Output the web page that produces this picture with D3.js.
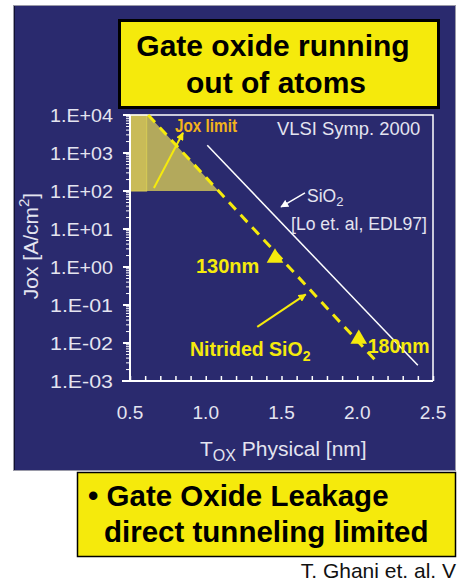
<!DOCTYPE html>
<html>
<head>
<meta charset="utf-8">
<script src="https://cdn.jsdelivr.net/npm/d3@7"></script>
<style>
  html, body { margin: 0; padding: 0; background: #fff; }
  svg { display: block; font-family: "Liberation Sans", Arial, sans-serif; }
</style>
</head>
<body>
<svg id="chart" width="457" height="583"></svg>
<script>
// Axis ranges and ticks
const xDomain = [0.5, 2.5];
const yDomain = [1e-3, 1e4];
const xTickValues = [0.5, 1.0, 1.5, 2.0, 2.5];
const yTickValues = [1e4, 1e3, 1e2, 1e1, 1e0, 1e-1, 1e-2, 1e-3];
const yTickLabels = ["1.E+04", "1.E+03", "1.E+02", "1.E+01", "1.E+00", "1.E-01", "1.E-02", "1.E-03"];

// Leakage trends: [Tox nm, Jox A/cm2]
const sio2Trend = [[1.01, 1.6e3], [2.40, 2.6e-3]];
const nitridedTrend = [[0.62, 1e4], [2.12, 3.5e-3]];

// Technology nodes on the nitrided oxide trend
const nodeNames = ["130nm", "180nm"];
const nodeTox = [1.457, 2.01];
const nodeJox = [1.73, 1.27e-2];

// Jox limit band
const joxLimitLow = 1e2;
const joxLimitHigh = 1e4;
const limitStripTox = 0.61;

const svg = d3.select("#chart");
const navy = "#2a2a6e";
const yellow = "#f5ea0c";
const pale = "#e4e4f0";

// Slide background panel
svg.append("rect").attr("x", 13.5).attr("y", 5.5).attr("width", 442).attr("height", 465)
  .attr("fill", navy).attr("stroke", "#9a9aa8").attr("stroke-width", 1);
svg.append("line").attr("x1", 14.5).attr("x2", 14.5).attr("y1", 6).attr("y2", 470)
  .attr("stroke", "#111133").attr("stroke-width", 1);

const x = d3.scaleLinear().domain(xDomain).range([130, 433]);
const y = d3.scaleLog().domain(yDomain).range([381, 115]);

// Jox limit shading
const slope = (Math.log10(nitridedTrend[1][1]) - Math.log10(nitridedTrend[0][1])) / (nitridedTrend[1][0] - nitridedTrend[0][0]);
const toxAtLow = nitridedTrend[0][0] + (Math.log10(joxLimitLow) - Math.log10(nitridedTrend[0][1])) / slope;
svg.append("path")
  .attr("d", d3.line()([
    [x(xDomain[0]), y(joxLimitHigh)], [x(nitridedTrend[0][0]), y(joxLimitHigh)],
    [x(toxAtLow), y(joxLimitLow)], [x(xDomain[0]), y(joxLimitLow)]
  ]) + "Z")
  .attr("fill", "#b3a95c");
svg.append("rect")
  .attr("x", x(xDomain[0])).attr("y", y(joxLimitHigh))
  .attr("width", x(limitStripTox) - x(xDomain[0])).attr("height", y(joxLimitLow) - y(joxLimitHigh))
  .attr("fill", "#c9bb58").attr("stroke", "#d8cc55").attr("stroke-width", 1);

// Plot frame (top and right sides)
svg.append("path")
  .attr("d", `M${x(xDomain[0])},${y(yDomain[1])}H${x(xDomain[1])}V${y(yDomain[0])}`)
  .attr("fill", "none").attr("stroke", "#ffffff").attr("stroke-width", 1.5);

// X axis
const xAxis = d3.axisBottom(x).tickValues(d3.range(0.5, 2.501, 0.1)).tickSize(-5).tickFormat("");
const gx = svg.append("g").attr("transform", `translate(0,${y(yDomain[0])})`).call(xAxis);
gx.select(".domain").attr("stroke", "#fff").attr("stroke-width", 2).attr("d", `M${x(xDomain[0]) - 8},0H${x(xDomain[1])}`);
gx.selectAll(".tick line").attr("stroke", "#fff").attr("stroke-width", 1.5);
svg.append("g").selectAll("text").data(xTickValues).join("text")
  .attr("x", d => x(d)).attr("y", 419)
  .attr("text-anchor", "middle").attr("fill", pale).attr("font-size", 19)
  .text(d => d.toFixed(1));

// Y axis with log minor ticks
const minor = [];
for (let e = -3; e < 4; e++) for (let m = 2; m <= 9; m++) minor.push(m * Math.pow(10, e));
const gy = svg.append("g").attr("transform", `translate(${x(xDomain[0])},0)`);
gy.append("line").attr("x1", 0).attr("x2", 0).attr("y1", y(yDomain[1])).attr("y2", y(yDomain[0]))
  .attr("stroke", "#fff").attr("stroke-width", 2);
gy.selectAll(".minor").data(minor).join("line").attr("class", "minor")
  .attr("x1", -4).attr("x2", 0).attr("y1", d => y(d)).attr("y2", d => y(d))
  .attr("stroke", "#fff").attr("stroke-width", 1);
gy.selectAll(".major").data(yTickValues).join("line").attr("class", "major")
  .attr("x1", -7).attr("x2", 0).attr("y1", d => y(d)).attr("y2", d => y(d))
  .attr("stroke", "#fff").attr("stroke-width", 2);
svg.append("g").selectAll("text").data(yTickValues).join("text")
  .attr("x", 113).attr("y", d => y(d) + 7)
  .attr("text-anchor", "end").attr("fill", pale).attr("font-size", 19)
  .attr("textLength", 63).attr("lengthAdjust", "spacingAndGlyphs")
  .text((d, i) => yTickLabels[i]);

// Axis titles
const yt = svg.append("text").attr("transform", "translate(38,246) rotate(-90)")
  .attr("text-anchor", "middle").attr("fill", pale).attr("font-size", 21);
yt.append("tspan").text("Jox [A/cm");
yt.append("tspan").attr("dy", -9).attr("font-size", 15).text("2");
yt.append("tspan").attr("dy", 9).text("]");
const xt = svg.append("text").attr("x", 200).attr("y", 456).attr("fill", pale).attr("font-size", 21);
xt.append("tspan").text("T");
xt.append("tspan").attr("dy", 5).attr("font-size", 16).text("OX");
xt.append("tspan").attr("dy", -5).text(" Physical [nm]");

// Trend lines
const line = d3.line().x(d => x(d[0])).y(d => y(d[1]));
svg.append("path").attr("d", line(sio2Trend))
  .attr("fill", "none").attr("stroke", "#ffffff").attr("stroke-width", 1.5);
svg.append("path").attr("d", line(nitridedTrend))
  .attr("fill", "none").attr("stroke", yellow).attr("stroke-width", 3)
  .attr("stroke-dasharray", "10,7");

// Node markers
svg.append("g").selectAll("path").data(nodeTox).join("path")
  .attr("transform", (d, i) => `translate(${x(d)},${y(nodeJox[i])})`)
  .attr("d", d3.symbol(d3.symbolTriangle, 120))
  .attr("fill", yellow);

// Arrow markers
const defs = svg.append("defs");
[["arrW", "#ffffff"], ["arrY", yellow]].forEach(([id, c]) => {
  defs.append("marker").attr("id", id).attr("viewBox", "0 0 10 10")
    .attr("refX", 9).attr("refY", 5).attr("markerWidth", 8).attr("markerHeight", 8)
    .attr("markerUnits", "userSpaceOnUse").attr("orient", "auto")
    .append("path").attr("d", "M0,0L10,5L0,10Z").attr("fill", c);
});
function arrow(p0, p1, id, color, w) {
  svg.append("line").attr("x1", p0[0]).attr("y1", p0[1]).attr("x2", p1[0]).attr("y2", p1[1])
    .attr("stroke", color).attr("stroke-width", w).attr("marker-end", `url(#${id})`);
}

// Annotations
arrow([x(0.658), y(120)], [x(0.85), y(3.4e3)], "arrY", yellow, 2);
svg.append("text").attr("x", 175).attr("y", 132).attr("fill", "#f2b31c")
  .attr("font-size", 18).attr("font-weight", "bold")
  .attr("textLength", 62).attr("lengthAdjust", "spacingAndGlyphs").text("Jox limit");

svg.append("text").attr("x", 277).attr("y", 135).attr("fill", pale)
  .attr("font-size", 18.4).text("VLSI Symp. 2000");

arrow([x(1.655), y(89)], [x(1.497), y(38)], "arrW", "#ffffff", 1.5);
svg.append("text").attr("x", 307).attr("y", 202).attr("fill", pale).attr("font-size", 17.5)
  .call(t => { t.append("tspan").text("SiO"); t.append("tspan").attr("dy", 4).attr("font-size", 13).text("2"); });
svg.append("text").attr("x", 291).attr("y", 230).attr("fill", pale).attr("font-size", 17.6)
  .text("[Lo et. al, EDL97]");

arrow([x(1.34), y(0.0265)], [x(1.66), y(0.19)], "arrY", yellow, 2);
const nt = svg.append("text").attr("x", 190).attr("y", 356).attr("fill", yellow)
  .attr("font-size", 19.5).attr("font-weight", "bold");
nt.append("tspan").text("Nitrided SiO");
nt.append("tspan").attr("dy", 5).attr("font-size", 14).text("2");

svg.append("text").attr("x", x(nodeTox[0]) - 79).attr("y", y(nodeJox[0]) + 15).attr("fill", yellow)
  .attr("font-size", 20).attr("font-weight", "bold").text(nodeNames[0]);
svg.append("text").attr("x", x(nodeTox[1]) + 9).attr("y", y(nodeJox[1]) + 14).attr("fill", yellow)
  .attr("font-size", 19.5).attr("font-weight", "bold").text(nodeNames[1]);

// Title box
svg.append("rect").attr("x", 119.5).attr("y", 20.5).attr("width", 319).attr("height", 87)
  .attr("fill", yellow).attr("stroke", "#000").attr("stroke-width", 3);
svg.append("text").attr("x", 273).attr("y", 56).attr("text-anchor", "middle")
  .attr("font-size", 30).attr("font-weight", "bold").attr("fill", "#000").text("Gate oxide running");
svg.append("text").attr("x", 276).attr("y", 93).attr("text-anchor", "middle")
  .attr("font-size", 30).attr("font-weight", "bold").attr("fill", "#000").text("out of atoms");

// Bottom message box
svg.append("rect").attr("x", 77.5).attr("y", 472.5).attr("width", 378).attr("height", 84)
  .attr("fill", yellow).attr("stroke", "#000").attr("stroke-width", 1.5);
svg.append("text").attr("x", 88).attr("y", 506).attr("font-size", 29.5).attr("font-weight", "bold")
  .attr("fill", "#000").text("\u2022 Gate Oxide Leakage");
svg.append("text").attr("x", 104).attr("y", 542).attr("font-size", 29.5).attr("font-weight", "bold")
  .attr("fill", "#000").text("direct tunneling limited");

// Source credit
svg.append("text").attr("x", 456).attr("y", 578).attr("text-anchor", "end")
  .attr("font-size", 21).attr("fill", "#111")
  .text("T. Ghani et. al. V");
</script>
</body>
</html>
